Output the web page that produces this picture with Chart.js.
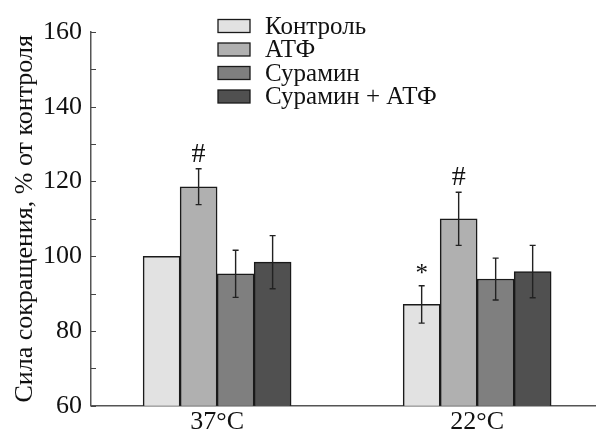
<!DOCTYPE html>
<html>
<head>
<meta charset="utf-8">
<script src="https://cdn.jsdelivr.net/npm/chart.js@4.4.1/dist/chart.umd.min.js"></script>
<style>
  html, body { margin: 0; padding: 0; background: #fff; overflow: hidden; }
  #wrap { width: 596px; height: 435px; }
</style>
</head>
<body>
<div id="wrap"><canvas id="c"></canvas></div>
<script>
const categories = ['37°C', '22°C'];
const seriesNames = ['Контроль', 'АТФ', 'Сурамин', 'Сурамин + АТФ'];
const seriesColors = ['#e2e2e2', '#b0b0b0', '#7f7f7f', '#505050'];

const control = [100, 87.1];
const controlErr = [0, 5];
const atp = [118.6, 110];
const atpErr = [4.8, 7.1];
const suramin = [95.3, 93.9];
const suraminErr = [6.3, 5.6];
const suraminAtp = [98.4, 95.9];
const suraminAtpErr = [7.1, 7];

const controlMarks = ['', '*'];
const atpMarks = ['#', '#'];
const suraminMarks = ['', ''];
const suraminAtpMarks = ['', ''];

const yTicks = [60, 80, 100, 120, 140, 160];
const yMinorStep = 10;

const values = [control, atp, suramin, suraminAtp];
const errors = [controlErr, atpErr, suraminErr, suraminAtpErr];
const marks = [controlMarks, atpMarks, suraminMarks, suraminAtpMarks];

const FONT = "'Liberation Serif', 'Times New Roman', serif";

// categories sit at x = 1, 2 on a linear axis so the groups can be placed like the original
const datasets = seriesNames.map((name, i) => ({
    label: name,
    data: values[i].map((v, j) => ({ x: j + 1, y: v })),
    errors: errors[i],
    marks: marks[i],
    backgroundColor: seriesColors[i],
    borderColor: '#1a1a1a',
    borderWidth: 1.5,
    borderSkipped: 'bottom',
    barThickness: 37
}));

const extras = {
    id: 'extras',
    afterDatasetsDraw(chart) {
        const ctx = chart.ctx;
        const y = chart.scales.y;
        ctx.save();
        // error bars and significance marks
        chart.data.datasets.forEach((ds, i) => {
            const meta = chart.getDatasetMeta(i);
            meta.data.forEach((bar, j) => {
                const v = ds.data[j].y;
                const e = ds.errors[j];
                let top = y.getPixelForValue(v);
                if (e > 0) {
                    const yt = y.getPixelForValue(v + e);
                    const yb = y.getPixelForValue(v - e);
                    ctx.strokeStyle = '#222';
                    ctx.lineWidth = 1.4;
                    ctx.beginPath();
                    ctx.moveTo(bar.x, yt); ctx.lineTo(bar.x, yb);
                    ctx.moveTo(bar.x - 3, yt); ctx.lineTo(bar.x + 3, yt);
                    ctx.moveTo(bar.x - 3, yb); ctx.lineTo(bar.x + 3, yb);
                    ctx.stroke();
                    top = yt;
                }
                const m = ds.marks[j];
                if (m) {
                    ctx.fillStyle = '#111';
                    ctx.font = (m === '#' ? 28 : 25) + 'px ' + FONT;
                    ctx.textAlign = 'center';
                    ctx.textBaseline = 'alphabetic';
                    ctx.fillText(m, bar.x, top - (m === '#' ? 7 : 5));
                }
            });
        });
        // inward ticks on the y axis
        ctx.strokeStyle = '#444';
        ctx.lineWidth = 1.2;
        ctx.beginPath();
        for (let v = y.min; v <= y.max; v += yMinorStep) {
            const py = Math.round(y.getPixelForValue(v)) + 0.5;
            ctx.moveTo(chart.chartArea.left, py);
            ctx.lineTo(chart.chartArea.left + 5, py);
        }
        ctx.stroke();
        // legend
        ctx.font = '25px ' + FONT;
        ctx.textAlign = 'left';
        ctx.textBaseline = 'middle';
        chart.data.datasets.forEach((ds, i) => {
            const cy = 26 + i * 23.5;
            ctx.fillStyle = ds.backgroundColor;
            ctx.fillRect(218, cy - 6.5, 32, 13);
            ctx.strokeStyle = '#1a1a1a';
            ctx.lineWidth = 1.3;
            ctx.strokeRect(218, cy - 6.5, 32, 13);
            ctx.fillStyle = '#111';
            ctx.fillText(ds.label, 265, cy + 1);
        });
        ctx.restore();
    }
};

new Chart(document.getElementById('c'), {
    type: 'bar',
    data: { datasets: datasets },
    options: {
        responsive: true,
        maintainAspectRatio: false,
        animation: false,
        layout: { padding: { top: 32, right: 0, left: 0, bottom: 0 } },
        plugins: { legend: { display: false }, tooltip: { enabled: false } },
        scales: {
            x: {
                type: 'linear',
                offset: false,
                min: 0.515,
                max: 2.457,
                afterBuildTicks(scale) { scale.ticks = categories.map((c, i) => ({ value: i + 1 })); },
                afterFit(scale) { scale.height = 29.3; },
                ticks: {
                    callback: (v) => categories[v - 1] || '',
                    color: '#111',
                    font: { family: FONT, size: 26 },
                    padding: 1,
                    maxRotation: 0
                },
                grid: { display: false, drawTicks: false },
                border: { display: true, color: '#555', width: 1.5 }
            },
            y: {
                min: 60,
                max: 160,
                afterBuildTicks(scale) { scale.ticks = yTicks.map(v => ({ value: v })); },
                afterFit(scale) { scale.width = 91; },
                ticks: {
                    color: '#111',
                    font: { family: FONT, size: 26 },
                    padding: 9
                },
                grid: { display: false, drawTicks: false },
                border: { display: true, color: '#555', width: 1.5 },
                title: {
                    display: true,
                    text: 'Сила сокращения, % от контроля',
                    color: '#111',
                    font: { family: FONT, size: 26 },
                    padding: { top: 9.5, bottom: 0 }
                }
            }
        }
    },
    plugins: [extras]
});
</script>
</body>
</html>
